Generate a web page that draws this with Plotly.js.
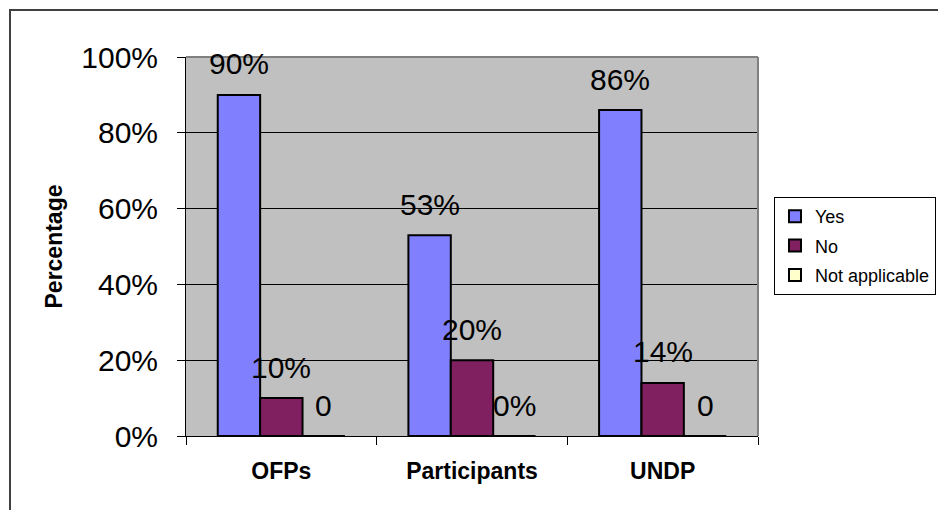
<!DOCTYPE html>
<html>
<head>
<meta charset="utf-8">
<script src="https://cdn.plot.ly/plotly-3.0.1.min.js"></script>
<style>html,body{margin:0;padding:0;background:#fff;}#chart{width:938px;height:510px;}</style>
</head>
<body>
<div id="chart"></div>
<script>
var categories = ['OFPs', 'Participants', 'UNDP'];
var seriesNames = ['Yes', 'No', 'Not applicable'];
var yesValues = [0.90, 0.53, 0.86];
var noValues = [0.10, 0.20, 0.14];
var naValues = [0, 0, 0];
var yesLabels = ['90%', '53%', '86%'];
var noLabels = ['10%', '20%', '14%'];
var naLabels = ['0', '0%', '0'];
var yTickVals = [0, 0.2, 0.4, 0.6, 0.8, 1.0];
var yTickText = ['0%', '20%', '40%', '60%', '80%', '100%'];

var colors = ['#8080FF', '#802060', '#FFFFCC'];
var FONT = '"Liberation Sans", Arial, sans-serif';

var allValues = [yesValues, noValues, naValues];
var allLabels = [yesLabels, noLabels, naLabels];

var traces = allValues.map(function (vals, j) {
  return {
    type: 'bar',
    name: seriesNames[j],
    x: categories,
    y: vals,
    legendgroup: 'g' + j,
    marker: { color: colors[j], line: { color: '#000', width: 2 } },
    hoverinfo: 'none'
  };
});

var bargap = 0.333;
var barW = (1 - bargap) / 3;
var annotations = [];
allValues.forEach(function (vals, j) {
  vals.forEach(function (v, i) {
    annotations.push({
      x: i + (j - 1) * barW, y: v, xref: 'x', yref: 'y',
      text: allLabels[j][i], showarrow: false,
      xanchor: 'center', yanchor: 'middle', yshift: 31,
      font: { family: FONT, size: 30, color: '#000' }
    });
  });
});

// plot area in pixels: x 186..758, y 57..436
var L = 186, R = 758, T = 57, B = 436;
function px(x) { return (x - L) / (R - L); }
function py(y) { return (B - y) / (B - T); }

annotations.push({
  xref: 'paper', yref: 'paper', x: px(53), y: 0.5,
  text: '<b>Percentage</b>', textangle: -90, showarrow: false,
  xanchor: 'center', yanchor: 'middle',
  font: { family: FONT, size: 23, color: '#000' }
});

var shapes = [
  { type: 'line', xref: 'paper', yref: 'paper', x0: 0, x1: 1, y0: 1, y1: 1,
    line: { color: '#808080', width: 2 }, layer: 'above' },
  { type: 'line', xref: 'paper', yref: 'paper', x0: 1, x1: 1, y0: 0, y1: 1,
    line: { color: '#808080', width: 2 }, layer: 'above' },
  { type: 'rect', xref: 'paper', yref: 'paper', x0: px(10), x1: px(945), y0: py(10), y1: py(520),
    line: { color: '#404040', width: 2 }, fillcolor: 'rgba(0,0,0,0)', layer: 'below' }
];

var layout = {
  width: 938, height: 510,
  margin: { l: L, r: 938 - R, t: T, b: 510 - B, pad: 0, autoexpand: false },
  paper_bgcolor: '#ffffff',
  plot_bgcolor: '#C0C0C0',
  barmode: 'group',
  bargap: bargap,
  bargroupgap: 0,
  showlegend: true,
  font: { family: FONT, color: '#000' },
  legend: {
    x: px(936), y: py(197), xanchor: 'right', yanchor: 'top',
    bgcolor: '#ffffff', bordercolor: '#000', borderwidth: 1,
    font: { family: FONT, size: 18, color: '#000' },
    traceorder: 'grouped', tracegroupgap: 3, itemwidth: 30
  },
  xaxis: {
    type: 'category', tickson: 'boundaries', automargin: false,
    ticks: 'outside', ticklen: 8, tickcolor: '#000', tickwidth: 1,
    showline: true, linecolor: '#000', linewidth: 1,
    showgrid: false, ticklabelstandoff: 14,
    tickfont: { family: FONT, size: 23, color: '#000', weight: 'bold' },
    fixedrange: true
  },
  yaxis: {
    range: [0, 1], tickvals: yTickVals, ticktext: yTickText, automargin: false,
    ticks: 'outside', ticklen: 8, tickcolor: '#000', tickwidth: 1,
    showline: true, linecolor: '#000', linewidth: 1,
    showgrid: true, gridcolor: '#000', gridwidth: 1,
    zeroline: false, ticklabelstandoff: 13,
    tickfont: { family: FONT, size: 30, color: '#000' },
    fixedrange: true
  },
  annotations: annotations,
  shapes: shapes
};

Plotly.newPlot('chart', traces, layout, { displayModeBar: false, staticPlot: true });
</script>
</body>
</html>
